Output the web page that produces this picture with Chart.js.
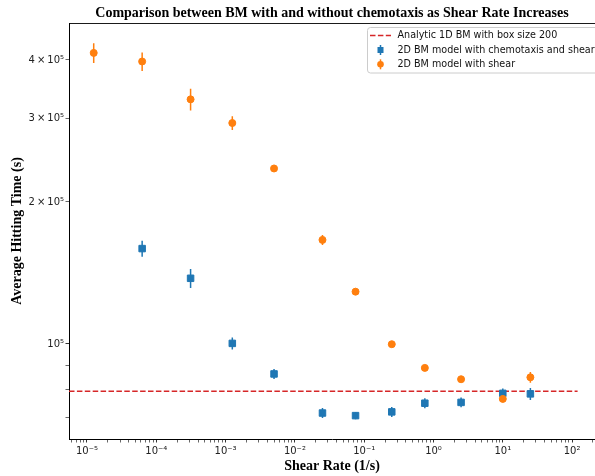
<!DOCTYPE html>
<html><head><meta charset="utf-8">
<script src="https://cdn.jsdelivr.net/npm/chart.js@4/dist/chart.umd.min.js"></script>
<style>html,body{margin:0;padding:0;background:#fff;overflow:hidden}#wrap{width:595px;height:476px;position:relative}</style>
</head><body><div id="wrap"><canvas id="c"></canvas></div>
<script>
// ---- data ----
const shearRates = [1.25e-5, 6.25e-5, 3.125e-4, 1.25e-3, 5e-3, 0.025, 0.075, 0.25, 0.75, 2.5, 10, 25];
const shearOnlyTime = [414000, 397000, 330000, 294000, 235500, 166200, 129100, 99900, 89000, 84200, 76500, 85000];
const shearOnlyErr  = [20000, 18000, 17500, 10000, 3500, 4000, 2000, 1200, 1200, 1200, 1200, 2200];
const chemoShearRates = [6.25e-5, 3.125e-4, 1.25e-3, 5e-3, 0.025, 0.075, 0.25, 0.75, 2.5, 10, 25];
const chemoTime = [159300, 137800, 100300, 86400, 71400, 70500, 71800, 74900, 75200, 78600, 78400];
const chemoErr  = [6200, 6400, 2900, 2100, 1750, 1200, 1750, 1800, 1800, 1900, 2300];
const analyticTime = 79400;
const analyticRange = [5.5e-6, 120];
const xRange = [5.5e-6, 214];
const yRange = [62900, 479000];
const xTickValues = [1e-5, 1e-4, 1e-3, 1e-2, 1e-1, 1e0, 1e1, 1e2];
const xTickLabels = ['10⁻⁵', '10⁻⁴', '10⁻³', '10⁻²', '10⁻¹', '10⁰', '10¹', '10²'];
const yTickValues = [7e4, 8e4, 9e4, 1e5, 2e5, 3e5, 4e5];
const yTickLabels = ['', '', '', '10⁵', '2\u2009×\u200910⁵', '3\u2009×\u200910⁵', '4\u2009×\u200910⁵'];
const seriesLabels = ['Analytic 1D BM with box size 200', '2D BM model with chemotaxis and shear', '2D BM model with shear'];
const titleText = 'Comparison between BM with and without chemotaxis as Shear Rate Increases';
const xTitle = 'Shear Rate (1/s)';
const yTitle = 'Average Hitting Time (s)';

const BLUE = '#1f77b4', ORANGE = '#ff7f0e', RED = '#d62728';

function pts(xs, ys) { return xs.map((x, i) => ({x: x, y: ys[i]})); }
function errPts(xs, ys, es) {
  const out = [];
  xs.forEach((x, i) => { out.push({x: x, y: ys[i] - es[i]}, {x: x, y: ys[i] + es[i]}, {x: x, y: null}); });
  return out;
}
const same = (a, b) => Math.abs(Math.log10(a) - Math.log10(b)) < 1e-9;

// log minor tick positions for x axis
const xAllTicks = [];
for (let e = -6; e <= 2; e++) for (let m = 1; m <= 9; m++) {
  const v = m * Math.pow(10, e);
  if (v >= xRange[0] && v <= xRange[1]) xAllTicks.push(v);
}
const isMajorX = v => xTickValues.some(t => same(t, v));
const isMajorY = v => [1e5].some(t => same(t, v));

const legendPlugin = {
  id: 'mplLegend',
  afterDraw(chart) {
    const ctx = chart.ctx;
    const left = 367.5, top = 27.5, w = 240, h = 45.5;
    ctx.save();
    ctx.beginPath();
    ctx.roundRect(left, top, w, h, 3);
    ctx.fillStyle = 'rgba(255,255,255,0.8)';
    ctx.fill();
    ctx.strokeStyle = '#cccccc';
    ctx.lineWidth = 1;
    ctx.stroke();
    const rows = [35.5, 50, 64.3];
    const hx = 380.5;
    ctx.strokeStyle = RED; ctx.lineWidth = 1.5; ctx.setLineDash([5.5, 2.4]);
    ctx.beginPath(); ctx.moveTo(370, rows[0]); ctx.lineTo(391, rows[0]); ctx.stroke();
    ctx.setLineDash([]);
    ctx.strokeStyle = BLUE; ctx.lineWidth = 1.5;
    ctx.beginPath(); ctx.moveTo(hx, rows[1] - 5); ctx.lineTo(hx, rows[1] + 5); ctx.stroke();
    ctx.fillStyle = BLUE; ctx.fillRect(hx - 3, rows[1] - 3, 6, 6);
    ctx.strokeStyle = ORANGE;
    ctx.beginPath(); ctx.moveTo(hx, rows[2] - 5); ctx.lineTo(hx, rows[2] + 5); ctx.stroke();
    ctx.fillStyle = ORANGE; ctx.beginPath(); ctx.arc(hx, rows[2], 3.3, 0, Math.PI * 2); ctx.fill();
    ctx.fillStyle = '#111';
    ctx.font = '9.6px "DejaVu Sans"';
    ctx.textBaseline = 'middle';
    ctx.textAlign = 'left';
    seriesLabels.forEach((t, i) => ctx.fillText(t, 397.5, rows[i]));
    ctx.restore();
  }
};
const frameTop = {
  id: 'frameTop',
  afterDraw(chart) {
    const {ctx, chartArea} = chart;
    ctx.save();
    ctx.strokeStyle = '#000'; ctx.lineWidth = 0.9;
    ctx.beginPath(); ctx.moveTo(chartArea.left, chartArea.top + 0.5); ctx.lineTo(chartArea.right, chartArea.top + 0.5); ctx.stroke();
    ctx.restore();
  }
};

new Chart(document.getElementById('c'), {
  type: 'scatter',
  data: {
    datasets: [
      { label: seriesLabels[0], type: 'line', data: [{x: analyticRange[0], y: analyticTime}, {x: analyticRange[1], y: analyticTime}],
        borderColor: RED, borderWidth: 1.5, borderDash: [5.5, 2.4], pointRadius: 0, showLine: true, fill: false, order: 6 },
      { label: 'chemo err', type: 'line', data: errPts(chemoShearRates, chemoTime, chemoErr),
        borderColor: BLUE, borderWidth: 1.5, pointRadius: 0, showLine: true, spanGaps: false, fill: false, order: 5 },
      { label: seriesLabels[1], data: pts(chemoShearRates, chemoTime), pointStyle: 'rect', pointRadius: 4.6,
        backgroundColor: BLUE, borderColor: BLUE, borderWidth: 1, order: 4 },
      { label: 'shear err', type: 'line', data: errPts(shearRates, shearOnlyTime, shearOnlyErr),
        borderColor: ORANGE, borderWidth: 1.5, pointRadius: 0, showLine: true, spanGaps: false, fill: false, order: 3 },
      { label: seriesLabels[2], data: pts(shearRates, shearOnlyTime), pointStyle: 'circle', pointRadius: 3.5,
        backgroundColor: ORANGE, borderColor: ORANGE, borderWidth: 1, order: 2 }
    ]
  },
  options: {
    responsive: true, maintainAspectRatio: false, animation: false,
    layout: { autoPadding: false, padding: { top: 0, left: 0, right: 0, bottom: 0 } },
    plugins: {
      legend: { display: false },
      tooltip: { enabled: false },
      title: { display: true, text: titleText, fullSize: false, color: '#000',
        font: { family: '"Liberation Serif"', size: 14, weight: 'bold', lineHeight: 1.2 },
        padding: { top: 4.6, bottom: 1.6 } }
    },
    scales: {
      x: {
        type: 'logarithmic', min: xRange[0], max: xRange[1], position: 'bottom',
        afterBuildTicks: s => { s.ticks = xAllTicks.map(v => ({value: v})); },
        afterFit: s => { s.height = 37; s.paddingLeft = 0; s.paddingRight = 0; },
        ticks: { autoSkip: false, maxRotation: 0, minRotation: 0, padding: 3, color: '#222',
          font: { family: '"DejaVu Sans"', size: 10 },
          callback: v => { const i = xTickValues.findIndex(t => same(t, v)); return i >= 0 ? xTickLabels[i] : ''; } },
        grid: { display: true, drawOnChartArea: false, drawTicks: true, tickLength: 3.5, color: '#000',
          lineWidth: c => (c.tick && isMajorX(c.tick.value)) ? 0.8 : 0.6 },
        border: { display: true, color: '#000', width: 1 },
        title: { display: true, text: xTitle, color: '#000', padding: { top: 0, bottom: 1.6 },
          font: { family: '"Liberation Serif"', size: 14, weight: 'bold', lineHeight: 1.2 } }
      },
      y: {
        type: 'logarithmic', min: yRange[0], max: yRange[1], position: 'left',
        afterBuildTicks: s => { s.ticks = yTickValues.map(v => ({value: v})); },
        afterFit: s => { s.width = 69; },
        ticks: { autoSkip: false, padding: 1.5, color: '#222',
          font: { family: '"DejaVu Sans"', size: 10 },
          callback: v => { const i = yTickValues.findIndex(t => same(t, v)); return i >= 0 ? yTickLabels[i] : ''; } },
        grid: { display: true, drawOnChartArea: false, drawTicks: true, tickLength: 3.5, color: '#000',
          lineWidth: c => (c.tick && isMajorY(c.tick.value)) ? 0.8 : 0.6 },
        border: { display: true, color: '#000', width: 1 },
        title: { display: true, text: yTitle, color: '#000', padding: { top: 9, bottom: 0 },
          font: { family: '"Liberation Serif"', size: 14, weight: 'bold', lineHeight: 1.2 } }
      }
    }
  },
  plugins: [legendPlugin, frameTop]
});
</script></body></html>
